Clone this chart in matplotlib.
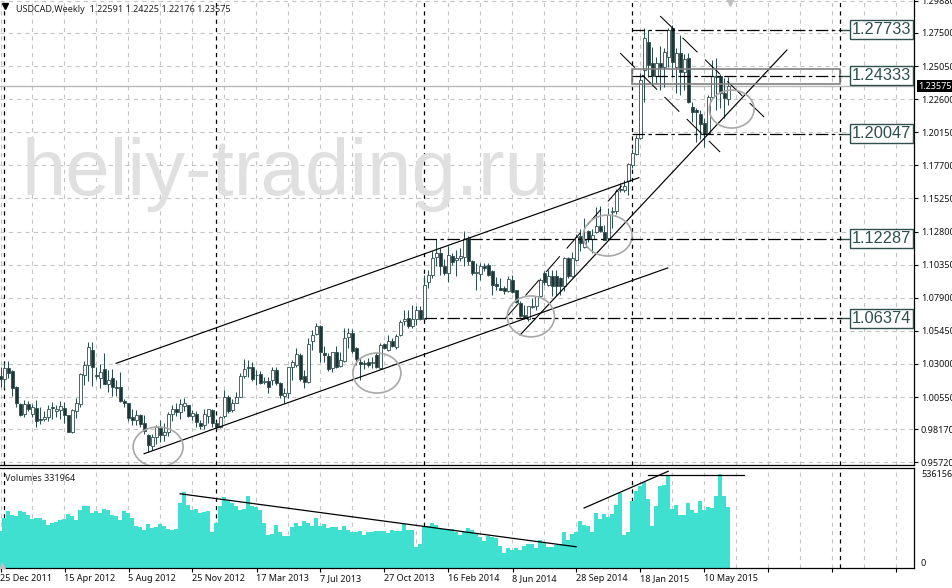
import matplotlib
matplotlib.use("Agg")
import matplotlib.pyplot as plt
from matplotlib.patches import Ellipse, Rectangle

plt.rcParams['font.family'] = ['Noto Sans', 'DejaVu Sans']
plt.rcParams['lines.scale_dashes'] = False

W, H = 953, 588
AXIS_X = 914
PRICE_BOTTOM = 465
VOL_TOP, VOL_BOTTOM = 468, 568

# weekly candles, one entry per bar
opens = [1.0210, 1.0190, 1.0270, 1.0245, 1.0130, 1.0005, 0.9930, 1.0005, 0.9930, 0.9975,
         0.9895, 0.9890, 0.9905, 0.9980, 0.9950, 0.9960, 0.9975, 0.9920, 0.9795, 0.9955,
         1.0005, 1.0220, 1.0290, 1.0405, 1.0220, 1.0200, 1.0265, 1.0155, 1.0200, 1.0130,
         1.0130, 1.0025, 1.0008, 0.9910, 0.9885, 0.9920, 0.9865, 0.9775, 0.9690, 0.9760,
         0.9825, 0.9775, 0.9800, 0.9930, 0.9970, 0.9945, 0.9990, 0.9995, 0.9915, 0.9929,
         0.9865, 0.9851, 0.9915, 0.9959, 0.9860, 0.9836, 0.9915, 1.0058, 0.9959, 1.0013,
         1.0058, 1.0211, 1.0275, 1.0280, 1.0221, 1.0226, 1.0167, 1.0174, 1.0181, 1.0255,
         1.0162, 1.0063, 1.0088, 1.0275, 1.0293, 1.0367, 1.0214, 1.0164, 1.0473, 1.0520,
         1.0584, 1.0379, 1.0359, 1.0268, 1.0386, 1.0285, 1.0325, 1.0498, 1.0527, 1.0416,
         1.0315, 1.0305, 1.0312, 1.0310, 1.0367, 1.0268, 1.0446, 1.0404, 1.0473, 1.0423,
         1.0514, 1.0616, 1.0640, 1.0583, 1.0633, 1.0702, 1.0633, 1.0907, 1.0961, 1.1092,
         1.1122, 1.1028, 1.0974, 1.1097, 1.1068, 1.1083, 1.1092, 1.1233, 1.1060, 1.0974,
         1.0969, 1.1023, 1.1035, 1.0986, 1.0895, 1.0863, 1.0863, 1.0838, 1.0924, 1.0845,
         1.0751, 1.0660, 1.0633, 1.0722, 1.0727, 1.0806, 1.0974, 1.0887, 1.0954, 1.0954,
         1.0937, 1.0875, 1.1085, 1.0949, 1.1073, 1.1250, 1.1166, 1.1283, 1.1226, 1.1275,
         1.1324, 1.1275, 1.1233, 1.1423, 1.1431, 1.1586, 1.1591, 1.1653, 1.1776, 1.1858,
         1.1972, 1.2476, 1.2686, 1.2525, 1.2434, 1.2525, 1.2500, 1.2575, 1.2785, 1.2500,
         1.2599, 1.2463, 1.2567, 1.2204, 1.2179, 1.2150, 1.2081, 1.2007, 1.2278, 1.2431,
         1.2431, 1.2303, 1.22591]
closes = [1.0190, 1.0270, 1.0235, 1.0125, 1.0008, 0.9922, 1.0005, 0.9965, 0.9985, 0.9878,
          0.9888, 0.9905, 0.9970, 0.9972, 0.9965, 0.9990, 0.9920, 0.9800, 0.9960, 1.0010,
          1.0225, 1.0295, 1.0425, 1.0275, 1.0210, 1.0240, 1.0155, 1.0185, 1.0130, 1.0122,
          1.0025, 1.0008, 0.9900, 0.9885, 0.9920, 0.9855, 0.9805, 0.9700, 0.9760, 0.9830,
          0.9775, 0.9795, 0.9930, 0.9965, 0.9945, 1.0005, 1.0010, 0.9915, 0.9934, 0.9873,
          0.9841, 0.9929, 0.9964, 0.9865, 0.9836, 0.9910, 1.0053, 0.9954, 1.0013, 1.0053,
          1.0211, 1.0260, 1.0268, 1.0186, 1.0216, 1.0162, 1.0177, 1.0127, 1.0255, 1.0157,
          1.0070, 1.0087, 1.0275, 1.0312, 1.0372, 1.0186, 1.0164, 1.0446, 1.0515, 1.0584,
          1.0386, 1.0364, 1.0263, 1.0386, 1.0280, 1.0330, 1.0490, 1.0532, 1.0399, 1.0335,
          1.0300, 1.0298, 1.0293, 1.0317, 1.0275, 1.0441, 1.0416, 1.0473, 1.0433, 1.0507,
          1.0614, 1.0633, 1.0583, 1.0633, 1.0702, 1.0633, 1.0887, 1.0961, 1.1085, 1.1122,
          1.1023, 1.0974, 1.1110, 1.1053, 1.1085, 1.1102, 1.1226, 1.1060, 1.0974, 1.0979,
          1.1023, 1.1011, 1.0961, 1.0887, 1.0875, 1.0850, 1.0838, 1.0929, 1.0833, 1.0756,
          1.0653, 1.0640, 1.0727, 1.0732, 1.0801, 1.0919, 1.0905, 1.0954, 1.0875, 1.0875,
          1.0875, 1.1085, 1.0949, 1.1085, 1.1240, 1.1196, 1.1221, 1.1226, 1.1258, 1.1324,
          1.1282, 1.1221, 1.1406, 1.1436, 1.1579, 1.1596, 1.1621, 1.1784, 1.1863, 1.1974,
          1.2402, 1.2715, 1.2513, 1.2431, 1.2525, 1.2500, 1.2612, 1.2772, 1.2538, 1.2599,
          1.2463, 1.2555, 1.2236, 1.2167, 1.2162, 1.2073, 1.1999, 1.2278, 1.2434, 1.2421,
          1.2303, 1.2266, 1.23575]
highs = [1.0280, 1.0305, 1.0325, 1.0255, 1.0135, 1.0010, 1.0035, 1.0025, 1.0005, 1.0030,
         0.9985, 0.9950, 0.9995, 1.0015, 1.0000, 1.0025, 1.0015, 0.9925, 0.9965, 1.0050,
         1.0235, 1.0325, 1.0465, 1.0460, 1.0280, 1.0300, 1.0385, 1.0255, 1.0265, 1.0180,
         1.0240, 1.0040, 1.0010, 0.9965, 0.9960, 0.9930, 0.9920, 0.9780, 0.9780, 0.9850,
         0.9885, 0.9860, 0.9945, 1.0000, 1.0010, 1.0040, 1.0050, 1.0000, 0.9959, 0.9950,
         0.9885, 0.9964, 0.9969, 0.9964, 0.9873, 0.9915, 1.0107, 1.0070, 1.0038, 1.0095,
         1.0231, 1.0335, 1.0330, 1.0317, 1.0256, 1.0251, 1.0206, 1.0206, 1.0280, 1.0275,
         1.0169, 1.0120, 1.0280, 1.0330, 1.0416, 1.0379, 1.0256, 1.0490, 1.0552, 1.0606,
         1.0589, 1.0433, 1.0379, 1.0391, 1.0433, 1.0391, 1.0564, 1.0564, 1.0557, 1.0424,
         1.0342, 1.0330, 1.0347, 1.0354, 1.0379, 1.0453, 1.0458, 1.0515, 1.0490, 1.0522,
         1.0626, 1.0702, 1.0702, 1.0739, 1.0727, 1.0732, 1.0961, 1.0998, 1.1134, 1.1226,
         1.1159, 1.1077, 1.1176, 1.1122, 1.1147, 1.1159, 1.1282, 1.1245, 1.1073, 1.1048,
         1.1048, 1.1048, 1.1048, 1.0998, 1.0944, 1.0937, 1.0880, 1.0949, 1.0961, 1.0850,
         1.0764, 1.0739, 1.0732, 1.0788, 1.0806, 1.0937, 1.0986, 1.0998, 1.0998, 1.0998,
         1.0944, 1.1092, 1.1092, 1.1130, 1.1260, 1.1300, 1.1381, 1.1295, 1.1300, 1.1463,
         1.1473, 1.1330, 1.1455, 1.1465, 1.1596, 1.1640, 1.1665, 1.1790, 1.1895, 1.1995,
         1.2451, 1.2785, 1.2772, 1.2649, 1.2575, 1.2654, 1.2637, 1.2785, 1.2810, 1.2636,
         1.2735, 1.2592, 1.2600, 1.2236, 1.2196, 1.2179, 1.2118, 1.2290, 1.2550, 1.2562,
         1.2445, 1.2415, 1.24225]
lows = [1.0130, 1.0125, 1.0200, 1.0065, 0.9985, 0.9915, 0.9910, 0.9950, 0.9905, 0.9835,
        0.9855, 0.9875, 0.9880, 0.9890, 0.9905, 0.9895, 0.9860, 0.9795, 0.9790, 0.9900,
        0.9980, 1.0145, 1.0175, 1.0135, 1.0190, 1.0120, 1.0150, 1.0095, 1.0060, 1.0065,
        1.0015, 0.9980, 0.9880, 0.9850, 0.9845, 0.9835, 0.9785, 0.9645, 0.9660, 0.9705,
        0.9720, 0.9730, 0.9770, 0.9880, 0.9915, 0.9890, 0.9950, 0.9905, 0.9885, 0.9835,
        0.9816, 0.9816, 0.9860, 0.9836, 0.9821, 0.9823, 0.9897, 0.9939, 0.9947, 1.0009,
        1.0053, 1.0194, 1.0206, 1.0176, 1.0144, 1.0152, 1.0152, 1.0083, 1.0144, 1.0144,
        1.0046, 1.0009, 1.0046, 1.0181, 1.0280, 1.0176, 1.0120, 1.0162, 1.0404, 1.0515,
        1.0317, 1.0317, 1.0251, 1.0243, 1.0268, 1.0280, 1.0317, 1.0416, 1.0384, 1.0293,
        1.0181, 1.0260, 1.0275, 1.0268, 1.0268, 1.0260, 1.0409, 1.0399, 1.0424, 1.0409,
        1.0507, 1.0591, 1.0566, 1.0566, 1.0591, 1.0628, 1.0633, 1.0863, 1.0937, 1.1023,
        1.0961, 1.0961, 1.0905, 1.1035, 1.0949, 1.1065, 1.1023, 1.1035, 1.0961, 1.0850,
        1.0924, 1.0985, 1.0949, 1.0813, 1.0850, 1.0845, 1.0821, 1.0830, 1.0826, 1.0751,
        1.0648, 1.0633, 1.0621, 1.0714, 1.0702, 1.0796, 1.0887, 1.0875, 1.0801, 1.0806,
        1.0813, 1.0838, 1.0937, 1.0944, 1.1065, 1.1140, 1.1160, 1.1200, 1.1122, 1.1270,
        1.1275, 1.1215, 1.1225, 1.1305, 1.1410, 1.1570, 1.1570, 1.1550, 1.1750, 1.1846,
        1.1965, 1.2236, 1.2426, 1.2365, 1.2377, 1.2328, 1.2352, 1.2500, 1.2426, 1.2303,
        1.2290, 1.2328, 1.2229, 1.2093, 1.1945, 1.1969, 1.1908, 1.2000, 1.2270, 1.2179,
        1.2192, 1.2118, 1.22176]
volumes = [213, 285, 327, 304, 298, 327, 319, 304, 279, 283, 285, 272, 247, 257, 260, 276,
           281, 310, 298, 276, 333, 355, 355, 314, 323, 314, 336, 333, 304, 295, 276, 323,
           314, 285, 241, 234, 215, 253, 228, 234, 253, 241, 222, 215, 222, 371, 431, 361,
           333, 338, 314, 317, 323, 203, 257, 355, 405, 380, 371, 352, 329, 336, 409, 352,
           348, 333, 257, 190, 196, 247, 205, 184, 184, 232, 257, 238, 266, 257, 238, 285,
           241, 253, 228, 232, 234, 219, 241, 215, 203, 207, 213, 190, 207, 207, 209, 213,
           209, 200, 219, 209, 209, 253, 219, 219, 118, 139, 241, 241, 257, 247, 228, 224,
           224, 224, 205, 190, 203, 228, 215, 196, 177, 156, 184, 177, 171, 127, 86, 112,
           105, 114, 105, 124, 139, 139, 114, 162, 143, 118, 118, 133, 139, 203, 162, 196,
           203, 270, 247, 241, 203, 314, 281, 310, 289, 310, 357, 428, 190, 203, 380, 441,
           469, 488, 393, 241, 355, 466, 475, 528, 336, 361, 300, 304, 371, 333, 314, 384,
           333, 348, 342, 409, 536, 409, 348]

price_ticks = [1.2988, 1.2750, 1.2505, 1.2260, 1.2015, 1.1770, 1.1525, 1.1280, 1.1035,
               1.0790, 1.0545, 1.0300, 1.0055, 0.9817, 0.9572]
price_labels = ['1.29880', '1.27500', '1.25050', '1.22600', '1.20150', '1.17700', '1.15250',
                '1.12800', '1.10350', '1.07900', '1.05450', '1.03000', '1.00550', '0.98170',
                '0.95720']
date_labels = ['25 Dec 2011', '15 Apr 2012', '5 Aug 2012', '25 Nov 2012', '17 Mar 2013',
               '7 Jul 2013', '27 Oct 2013', '16 Feb 2014', '8 Jun 2014', '28 Sep 2014',
               '18 Jan 2015', '10 May 2015']

# drawn objects on the chart, in (bar, price) terms
separators = [1, 54, 106, 158, 210]
levels = [(1.27733, 158), (1.24333, 158), (1.20047, 158), (1.12287, 106), (1.06374, 106)]
level_end = 210.5
solid_lines = [(28.9, 1.0305, 159.6, 1.1679), (35.9, 0.9636, 166.8, 1.1011),
               (129.9, 1.0515, 196.6, 1.2624)]
dashed_lines = [(126.1, 1.0633, 155.9, 1.1640), (164.9, 1.2876, 190.9, 1.2128),
                (154.9, 1.2602, 179.9, 1.1869)]
circles = [(39.4, 0.9686, 12.5, 0.0296), (94.1, 1.0233, 12.0, 0.0296),
           (132.6, 1.0652, 11.8, 0.0303), (151.8, 1.1251, 12.2, 0.0303),
           (182.8, 1.2187, 11.2, 0.0281)]
vol_lines = [(44.9, 423, 143.9, 121), (145.9, 342, 166.9, 551), (161.9, 531, 185.8, 531)]

dark = '#2f4f4f'
grid_col = '#c4c4c4'
small = 6.5
px_x = lambda x: (x - 0.5) / 4.0
xlim = (px_x(0), px_x(AXIS_X))

fig = plt.figure(figsize=(W / 100, H / 100), dpi=100)
ax = fig.add_axes([0, 1 - PRICE_BOTTOM / H, AXIS_X / W, PRICE_BOTTOM / H])
vol = fig.add_axes([0, 1 - VOL_BOTTOM / H, AXIS_X / W, (VOL_BOTTOM - VOL_TOP) / H])

for a in (ax, vol):
    a.set_xlim(*xlim)
    a.set_xticks(range(0, 229, 16))
    a.set_xticks(range(8, 229, 16), minor=True)
    a.grid(True, which='both', axis='x', color=grid_col, lw=0.8, ls=(0, (3, 3)))
    a.set_axisbelow(True)
    a.yaxis.tick_right()
    a.tick_params(axis='y', length=3, width=0.8, pad=2, labelsize=small, labelcolor='#111111')
    a.tick_params(axis='x', which='minor', length=0)
    a.spines['left'].set_visible(False)
    a.spines['top'].set_visible(False)
    for s in ('right', 'bottom', 'top'):
        a.spines[s].set_linewidth(0.9)
    for sep in separators:
        a.axvline(sep, color='black', lw=0.9, ls=(0, (3, 3)), zorder=1)
vol.spines['top'].set_visible(True)

# price panel
ax.set_ylim(1.275 - (PRICE_BOTTOM - 33) / 1351, 1.275 + 33 / 1351)
ax.set_yticks(price_ticks)
ax.set_yticklabels(price_labels)
ax.grid(True, axis='y', color=grid_col, lw=0.8, ls=(0, (3, 3)))
ax.tick_params(axis='x', which='major', length=0, labelbottom=False)

fig.text(22 / W, 1 - 195 / H, 'heliy-trading.ru', color='#e0e0e0', fontsize=57.5,
         family='Liberation Sans', va='baseline', zorder=0.5)

idx = range(len(opens))
ax.vlines(idx, lows, highs, color=dark, lw=0.75, zorder=3)
for i in idx:
    bull = closes[i] >= opens[i]
    ax.bar(i, max(abs(closes[i] - opens[i]), 0.0006), bottom=min(opens[i], closes[i]), width=0.55,
           facecolor='white' if bull else '#1f3535', edgecolor=dark, lw=0.6, zorder=4)

for x0, y0, x1, y1 in solid_lines:
    ax.plot([x0, x1], [y0, y1], color='black', lw=0.85, zorder=5)
for x0, y0, x1, y1 in dashed_lines:
    ax.plot([x0, x1], [y0, y1], color='black', lw=0.75, ls=(0, (15, 7.5)), zorder=5)
for cx, cy, w, h in circles:
    ax.add_patch(Ellipse((cx, cy), w, h, fill=False, ec='#a8a8a8', lw=1.2, zorder=5))

ax.add_patch(Rectangle((158, 1.2370), 52, 0.0114, fill=False, ec='#808080', lw=1.2, zorder=5))
ax.axhline(closes[-1], color='#b8b8b8', lw=1.0, zorder=2)
for price, start in levels:
    ax.plot([start, level_end], [price, price], color='black', lw=0.9,
            ls=(0, (9, 2.5, 2.5, 2.5)), zorder=5)
    ax.plot([level_end, 213], [price, price], color=dark, lw=1.0, zorder=5)
    ax.text(220.25, price, f'{price:.5f}', color=dark, fontsize=11.8, family='Liberation Sans',
            ha='center', va='center', zorder=6,
            bbox=dict(boxstyle='square,pad=0.12', fc='white', ec=dark, lw=1.0))

ax.text(px_x(918), closes[-1], f'{closes[-1]:.5f}', color='white', fontsize=small, va='center',
        ha='left', clip_on=False, zorder=7,
        bbox=dict(boxstyle='square,pad=0.15', fc='black', ec='black', lw=0))

ax.plot(px_x(5), 1.275 + 27 / 1351, marker='v', color='black', ms=4, zorder=6)
ax.text(px_x(16), 1.275 + 24 / 1351, 'USDCAD,Weekly  1.22591 1.24225 1.22176 1.23575',
        fontsize=small, color='#222222', va='center', zorder=6)
ax.plot(px_x(730), 1.275 + 31 / 1351, marker='v', color='#c0c0c0', ms=6, zorder=6)

# volume panel
vol.bar(idx, [v * 1000 for v in volumes], width=1.0, color='#40e0d0', lw=0, zorder=2)
vol.set_ylim(0, 570000)
vol.set_yticks([0, 536156])
vol.set_yticklabels(['0', '536156'])
vol.get_yticklabels()[0].set_va('bottom')
vol.tick_params(axis='y', length=0, pad=5)
vol.set_xticks(range(0, 229, 16))
vol.set_xticklabels(date_labels + [''] * (15 - len(date_labels)), ha='left')
vol.tick_params(axis='x', which='major', length=3, width=0.8, pad=1.5, labelsize=small,
                labelcolor='#111111')
vol.plot(px_x(1.5), 12000, marker='^', color='#c0c0c0', ms=4, zorder=6, clip_on=True)
for x0, y0, x1, y1 in vol_lines:
    vol.plot([x0, x1], [y0 * 1000, y1 * 1000], color='black', lw=0.9, zorder=5)
vol.text(px_x(5), 510000, 'Volumes 331964', fontsize=small, color='#222222', va='center', zorder=6)

plt.savefig('out.png', dpi=100)
